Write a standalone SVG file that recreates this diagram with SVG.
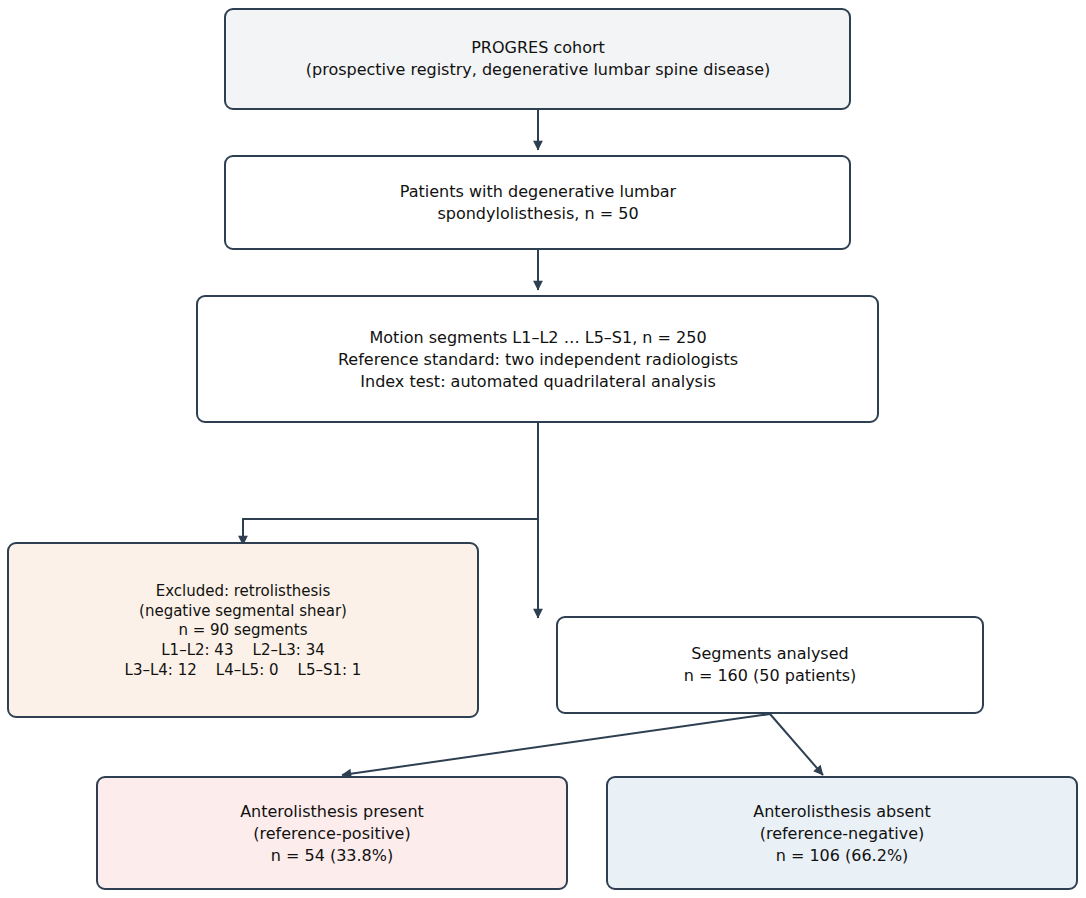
<svg xmlns="http://www.w3.org/2000/svg" width="1086" height="898" viewBox="0 0 1086 898">
<style>
.b{stroke:#2e3f52;stroke-width:2}
text{font-family:"DejaVu Sans",sans-serif;font-size:16px;fill:#111;text-anchor:middle}
.s{font-size:15px}
.c{stroke:#2e3f52;stroke-width:2;fill:none}
</style>
<defs><marker id="a" viewBox="0 0 10 10" refX="9" refY="5" markerWidth="7" markerHeight="7" orient="auto" markerUnits="userSpaceOnUse" style="overflow:visible"><path d="M0,0L10,5L0,10z" fill="#2e3f52" transform="scale(1.4) translate(-3,-1.4)"/></marker></defs>
<rect width="1086" height="898" fill="#fff"/>
<g id="connectors">
<path class="c" d="M538,109V150" marker-end="url(#a)"/>
<path class="c" d="M538,249V290" marker-end="url(#a)"/>
<path class="c" d="M538,422V618" marker-end="url(#a)"/>
<path class="c" d="M538,519H243V545" marker-end="url(#a)"/>
<path class="c" d="M770,714L342,775" marker-end="url(#a)"/>
<path class="c" d="M770,714L823,775" marker-end="url(#a)"/>
</g>
<g id="n1"><rect class="b" x="225" y="9" width="625" height="100" rx="8" fill="#f3f4f6"/><text x="538" y="53">PROGRES cohort</text><text x="538" y="75">(prospective registry, degenerative lumbar spine disease)</text></g>
<g id="n2"><rect class="b" x="225" y="156" width="625" height="93" rx="8" fill="#fff"/><text x="538" y="197">Patients with degenerative lumbar</text><text x="538" y="219">spondylolisthesis, n = 50</text></g>
<g id="n3"><rect class="b" x="197" y="296" width="681" height="126" rx="8" fill="#fff"/><text x="538" y="343">Motion segments L1–L2 … L5–S1, n = 250</text><text x="538" y="365">Reference standard: two independent radiologists</text><text x="538" y="387">Index test: automated quadrilateral analysis</text></g>
<g id="n4"><rect class="b" x="8" y="543" width="470" height="174" rx="8" fill="#fcf1e8"/><text class="s" x="243" y="596">Excluded: retrolisthesis</text><text class="s" x="243" y="616">(negative segmental shear)</text><text class="s" x="243" y="635">n = 90 segments</text><text class="s" x="243" y="655" xml:space="preserve">L1–L2: 43    L2–L3: 34</text><text class="s" x="243" y="675" xml:space="preserve">L3–L4: 12    L4–L5: 0    L5–S1: 1</text></g>
<g id="n5"><rect class="b" x="557" y="617" width="426" height="96" rx="8" fill="#fff"/><text x="770" y="659">Segments analysed</text><text x="770" y="681">n = 160 (50 patients)</text></g>
<g id="n6"><rect class="b" x="97" y="777" width="470" height="112" rx="8" fill="#fcecec"/><text x="332" y="817">Anterolisthesis present</text><text x="332" y="839">(reference-positive)</text><text x="332" y="861">n = 54 (33.8%)</text></g>
<g id="n7"><rect class="b" x="607" y="777" width="470" height="112" rx="8" fill="#e9f0f6"/><text x="842" y="817">Anterolisthesis absent</text><text x="842" y="839">(reference-negative)</text><text x="842" y="861">n = 106 (66.2%)</text></g>
</svg>
